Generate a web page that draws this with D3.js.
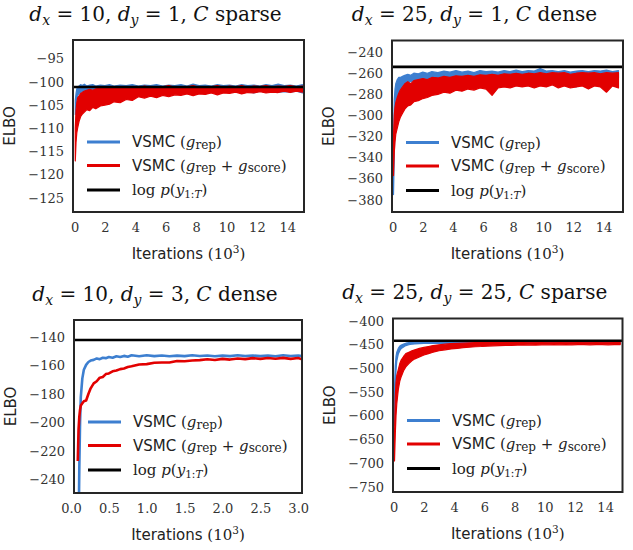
<!DOCTYPE html>
<html>
<head>
<meta charset="utf-8">
<script src="https://cdn.jsdelivr.net/npm/d3@7"></script>
<style>
  body { margin: 0; background: #fff; }
  text { white-space: pre; }
</style>
</head>
<body>
<div id="app"></div>
<script>
// Iterations (in thousands) shared by the three 15k-iteration runs
const xLong = [0.05, 0.1, 0.15, 0.2, 0.3, 0.4, 0.5, 0.65, 0.8, 1.0,
  1.2, 1.4, 1.7, 2.0, 2.3, 2.6, 3.0, 3.4, 3.8, 4.2,
  4.6, 5.0, 5.4, 5.8, 6.2, 6.6, 7.0, 7.4, 7.8, 8.2,
  8.6, 9.0, 9.4, 9.8, 10.2, 10.6, 11.0, 11.4, 11.8, 12.2,
  12.6, 13.0, 13.4, 13.8, 14.2, 14.6, 15.0];

// Panel 1: dx=10, dy=1, C sparse (upper / lower edge of the noisy trace)
const p1BlueHi = [-104, -102.5, -101.5, -101.2, -100.9, -100.6, -100.8, -100.5, -100.9, -100.7,
  -100.6, -100.9, -100.7, -100.8, -100.6, -100.9, -100.7, -100.8, -100.6, -100.9,
  -100.7, -100.8, -100.6, -100.9, -100.7, -100.8, -100.6, -100.9, -100.5, -100.8,
  -100.7, -100.9, -100.6, -100.8, -100.7, -100.9, -100.6, -100.8, -100.7, -100.9,
  -100.6, -100.8, -100.5, -100.8, -100.7, -100.9, -100.6];
const p1BlueLo = [-107, -105, -104, -103, -102.5, -102.3, -102.1, -102.0, -101.9, -102.0,
  -101.9, -102.1, -101.9, -102.0, -102.2, -101.9, -102.1, -102.0, -102.3, -101.9,
  -102.1, -102.0, -102.2, -101.9, -102.1, -102.0, -102.4, -101.9, -102.1, -102.0,
  -102.2, -101.9, -102.1, -102.3, -102.0, -102.2, -101.9, -102.1, -102.4, -102.0,
  -102.2, -102.0, -102.3, -102.1, -102.2, -102.0, -102.4];
const p1RedHi = [-110, -106, -104.5, -103.5, -103, -102.5, -102.3, -102, -101.8, -101.6,
  -101.8, -101.5, -101.4, -101.3, -101.1, -101.3, -101.0, -101.2, -101.0, -101.3,
  -100.9, -101.2, -101.0, -101.1, -100.8, -101.2, -101.0, -101.1, -100.8, -101.2,
  -101.0, -101.1, -100.8, -101.2, -100.9, -101.1, -100.8, -101.2, -100.9, -101.0,
  -100.8, -101.1, -100.9, -101.0, -100.8, -101.1, -100.9];
const p1RedLo = [-117, -113, -111, -110, -108.5, -107.5, -107, -106.5, -106, -106.2,
  -105.5, -105.8, -105.2, -105, -104.8, -104.3, -104.5, -103.8, -104, -103.2,
  -103.5, -103.1, -103.4, -102.9, -103.2, -102.8, -102.9, -102.6, -103.0, -102.6,
  -102.7, -102.4, -102.8, -102.4, -102.5, -102.2, -102.6, -102.3, -102.4, -102.1,
  -102.4, -102.2, -102.3, -102.0, -102.3, -102.0, -102.2];

// Panel 2: dx=25, dy=1, C dense
const p2BlueHi = [-330, -285, -275, -270, -266, -264, -264, -263, -262, -261,
  -262, -260, -260.5, -259, -260, -258.5, -259.5, -258, -259, -257.5,
  -259, -258, -259.5, -257.5, -258.5, -258, -259, -257.5, -258.5, -257,
  -258.5, -257.5, -258, -255.5, -258, -257.5, -258.5, -257.5, -259, -258,
  -257.5, -258.5, -257.5, -258, -257, -258.5, -257.5];
const p2BlueLo = [-375, -340, -305, -292, -283, -278, -275, -272, -270, -268,
  -268, -267, -266, -265, -265.5, -264.5, -265, -264, -265, -264,
  -265, -264, -264.5, -263.5, -265, -264, -264.5, -263.5, -264.5, -263.5,
  -264.5, -263.5, -264, -263.5, -264.5, -264, -264.5, -265, -272, -273,
  -265, -264, -264.5, -264, -264.5, -264, -264.5];
const p2RedHi = [-320, -300, -292, -288, -283, -279, -276, -273, -270, -268,
  -270, -267, -266, -265, -266, -264, -264.5, -263, -264, -262.5,
  -263, -262, -263, -261.5, -262, -261, -262, -260.5, -261, -260,
  -261, -260, -260.5, -259.5, -260.5, -259.5, -260, -259.5, -261, -260,
  -259.5, -260, -259.5, -260.5, -259.5, -260, -259.5];
const p2RedLo = [-357, -335, -325, -318, -312, -306, -302, -298, -294, -291,
  -290, -287, -286, -284, -283, -281, -280, -278, -279, -276,
  -277, -275, -276, -274, -275, -281, -274, -273, -274, -272,
  -273, -272, -274, -272, -273, -271, -274, -272, -274, -273,
  -272, -275, -272, -273, -278, -272, -274];

// Panel 3: dx=10, dy=3, C dense (3k iterations, thin traces)
const xShort = [0.09, 0.1, 0.11, 0.12, 0.13, 0.15, 0.17, 0.2, 0.23, 0.26,
  0.3, 0.34, 0.38, 0.42, 0.46, 0.5, 0.55, 0.6, 0.65, 0.7,
  0.75, 0.8, 0.9, 1.0, 1.1, 1.2, 1.3, 1.4, 1.5, 1.6,
  1.7, 1.8, 1.9, 2.0, 2.1, 2.2, 2.3, 2.4, 2.5, 2.6,
  2.7, 2.8, 2.9, 3.0, 3.05];
const p3Blue = [-320, -280, -232, -200, -182, -169, -163, -159.5, -157.5, -156.5,
  -156, -155, -155.5, -154.5, -154.8, -154, -154.5, -153.5, -154, -153.2,
  -153.8, -152.8, -153.5, -152.8, -153.4, -152.9, -153.5, -153, -153.4, -152.8,
  -153.3, -152.9, -153.5, -153, -153.4, -152.8, -153.3, -152.9, -153.4, -153,
  -153.5, -152.8, -153.3, -152.9, -153.4];
const p3Red = [-227, -205, -196, -191, -188, -186.5, -185, -184.5, -180, -176,
  -172.5, -171, -168.5, -168, -166, -165.5, -164, -163.5, -162.5, -162,
  -161, -160.5, -159.2, -159, -158, -157.8, -157.9, -156.8, -157, -156.4,
  -156.2, -155.6, -156.1, -155.3, -155.8, -155, -155.5, -154.8, -155.3, -154.7,
  -155.2, -154.6, -155.3, -154.7, -155.6];

// Panel 4: dx=25, dy=25, C sparse
const p4BlueHi = [-540, -495, -475, -466, -458, -453, -451, -449, -447, -446,
  -445.5, -445, -445, -444.5, -445, -444.5, -444.5, -444, -444.5, -444,
  -444.5, -444, -444.5, -444, -444.5, -444, -444.5, -444, -444.5, -444,
  -444.5, -444, -444.5, -444, -444.5, -444, -444.5, -444, -444.5, -444,
  -444.5, -444, -444.5, -444, -444.5, -444, -444.5];
const p4BlueLo = [-620, -540, -505, -485, -470, -463, -458, -455, -452, -450,
  -449, -448.5, -448, -447.5, -447.5, -447, -447.5, -447, -447.5, -447,
  -447.5, -447, -447.5, -447, -447.5, -447, -447.5, -447, -447.5, -447,
  -447.5, -447, -447.5, -447, -447.5, -447, -447.5, -447, -447.5, -447,
  -447.5, -447, -447.5, -447, -447.5, -447, -447.5];
const p4RedHi = [-640, -560, -530, -515, -503, -490, -482, -475, -469, -466,
  -463, -461, -458, -456, -454, -452, -450.5, -449, -448, -447.5,
  -447, -446.5, -446, -446, -445.5, -445.5, -445.5, -445, -445.5, -445,
  -445.5, -445, -445, -445.5, -445, -445, -445.5, -445, -445, -445.5,
  -445, -445, -445.5, -445, -445, -445.5, -445];
const p4RedLo = [-695, -640, -600, -575, -545, -527, -517, -505, -497, -490,
  -484, -480, -476, -472, -469, -466, -463, -461, -459, -458,
  -456.5, -455.5, -454.5, -454, -453, -452.5, -452, -451.5, -451.5, -451,
  -451, -450.5, -451, -450.5, -450.5, -450, -450.5, -450, -450.5, -450,
  -450, -450.5, -450, -450, -450.5, -450, -450];

// True log-likelihood per panel
const logP = [-101.1, -254, -142, -442];

// Tick values
const yTicks1 = [-125, -120, -115, -110, -105, -100, -95];
const yTicks2 = [-380, -360, -340, -320, -300, -280, -260, -240];
const yTicks3 = [-240, -220, -200, -180, -160, -140];
const yTicks4 = [-750, -700, -650, -600, -550, -500, -450, -400];
const xTicksLong = [0, 2, 4, 6, 8, 10, 12, 14];
const xTicksShort = [0, 0.5, 1.0, 1.5, 2.0, 2.5, 3.0];

// Titles: [text, kind]
const titles = [
  [["d", "i"], ["x", "subi"], [" = 10, ", "r"], ["d", "i"], ["y", "subi"], [" = 1, ", "r"], ["C", "i"], [" sparse", "r"]],
  [["d", "i"], ["x", "subi"], [" = 25, ", "r"], ["d", "i"], ["y", "subi"], [" = 1, ", "r"], ["C", "i"], [" dense", "r"]],
  [["d", "i"], ["x", "subi"], [" = 10, ", "r"], ["d", "i"], ["y", "subi"], [" = 3, ", "r"], ["C", "i"], [" dense", "r"]],
  [["d", "i"], ["x", "subi"], [" = 25, ", "r"], ["d", "i"], ["y", "subi"], [" = 25, ", "r"], ["C", "i"], [" sparse", "r"]]
];

const legendItems = [
  [["VSMC", "s"], [" (", "r"], ["g", "i"], ["rep", "lo"], [")", "r"]],
  [["VSMC", "s"], [" (", "r"], ["g", "i"], ["rep", "lo"], [" + ", "r"], ["g", "i"], ["score", "lo"], [")", "r"]],
  [["log ", "r"], ["p", "i"], ["(", "r"], ["y", "i"], ["1:", "sub"], ["T", "subi"], [")", "r"]]
];

const blue = "#3d7fd0";
const red = "#e20000";
const frame = "#262626";
const serif = "'DejaVu Serif', serif";
const sans = "'DejaVu Sans', sans-serif";

// layout of each panel
const panels = [
  { box: [73, 40, 304, 212], xDom: [-0.1, 15.1], yDom: [-128, -91], xTicks: xTicksLong, yTicks: yTicks1, fmt: "d",
    x: xLong, bands: [[p1BlueHi, p1BlueLo, blue], [p1RedHi, p1RedLo, red]] },
  { box: [392, 40.5, 623, 212], xDom: [-0.05, 15.3], yDom: [-391.5, -229], xTicks: xTicksLong, yTicks: yTicks2, fmt: "d",
    x: xLong, bands: [[p2BlueHi, p2BlueLo, blue], [p2RedHi, p2RedLo, red]] },
  { box: [74, 320, 302, 493], xDom: [0.04, 3.05], yDom: [-249.5, -128], xTicks: xTicksShort, yTicks: yTicks3, fmt: ".1f",
    x: xShort, lines: [[p3Blue, blue], [p3Red, red]] },
  { box: [393, 318.5, 622.5, 492], xDom: [-0.05, 15.15], yDom: [-760.5, -395], xTicks: xTicksLong, yTicks: yTicks4, fmt: "d",
    x: xLong, bands: [[p4BlueHi, p4BlueLo, blue], [p4RedHi, p4RedLo, red]] }
];

const svg = d3.select("#app").append("svg")
  .attr("width", 633).attr("height", 550)
  .attr("viewBox", [0, 0, 633, 550]);

// writes mixed sans / math text into a <text>
function rich(text, parts, size) {
  let shift = 0;
  parts.forEach(([t, k]) => {
    const ts = text.append("tspan").text(t)
      .attr("font-family", k === "s" ? sans : serif);
    let target = 0;
    if (k === "i" || k === "subi") ts.attr("font-style", "italic");
    if (k === "sub" || k === "subi") { ts.attr("font-size", size * 0.7); target = size * 0.22; }
    if (k === "lo") { ts.attr("font-size", size * 0.8); target = size * 0.12; }
    if (k === "sup") { ts.attr("font-size", size * 0.7); target = -size * 0.4; }
    ts.attr("dy", target - shift);
    shift = target;
  });
}

panels.forEach((p, i) => {
  const [l, t, r, b] = p.box;
  const x = d3.scaleLinear().domain(p.xDom).range([l, r]);
  const y = d3.scaleLinear().domain(p.yDom).range([b, t]);
  const g = svg.append("g");

  g.append("clipPath").attr("id", "clip" + i)
    .append("rect").attr("x", l).attr("y", t).attr("width", r - l).attr("height", b - t);
  const plot = g.append("g").attr("clip-path", `url(#clip${i})`);

  if (p.bands) {
    p.bands.forEach(([hi, lo, c]) => {
      const area = d3.area()
        .x((d, j) => x(p.x[j]))
        .y0((d, j) => y(lo[j]))
        .y1((d) => y(d));
      plot.append("path").datum(hi)
        .attr("d", area)
        .attr("fill", c)
        .attr("stroke", c)
        .attr("stroke-width", 1.2)
        .attr("stroke-linejoin", "round");
    });
  }
  if (p.lines) {
    p.lines.forEach(([vals, c]) => {
      const line = d3.line().x((d, j) => x(p.x[j])).y((d) => y(d));
      plot.append("path").datum(vals)
        .attr("d", line)
        .attr("fill", "none")
        .attr("stroke", c)
        .attr("stroke-width", 2.6)
        .attr("stroke-linejoin", "round");
    });
  }

  // log p(y_1:T)
  plot.append("line")
    .attr("x1", l).attr("x2", r)
    .attr("y1", y(logP[i])).attr("y2", y(logP[i]))
    .attr("stroke", "#000").attr("stroke-width", 2.6);

  // axes
  g.append("g")
    .attr("transform", `translate(${l},0)`)
    .call(d3.axisLeft(y).tickValues(p.yTicks).tickSize(0).tickPadding(9))
    .call((a) => a.select(".domain").remove())
    .attr("font-family", serif).attr("font-size", 13)
    .selectAll("text").attr("fill", "#333");

  g.append("g")
    .attr("transform", `translate(0,${b})`)
    .call(d3.axisBottom(x).tickValues(p.xTicks).tickSize(0).tickPadding(11)
      .tickFormat(d3.format(p.fmt)))
    .call((a) => a.select(".domain").remove())
    .attr("font-family", serif).attr("font-size", 13)
    .selectAll("text").attr("fill", "#333");

  // axis labels
  g.append("text")
    .attr("transform", `translate(${l - 58},${(t + b) / 2}) rotate(-90)`)
    .attr("text-anchor", "middle")
    .attr("font-family", sans).attr("font-size", 15).attr("fill", "#222")
    .text("ELBO");

  const xl = g.append("text")
    .attr("x", (l + r) / 2).attr("y", b + 47)
    .attr("text-anchor", "middle")
    .attr("font-size", 15).attr("fill", "#222");
  rich(xl, [["Iterations ", "s"], ["(10", "r"], ["3", "sup"], [")", "r"]], 15);

  // title
  const tt = svg.append("text")
    .attr("x", (l + r) / 2 - 33).attr("y", t - 19.5)
    .attr("text-anchor", "middle")
    .attr("font-size", 20).attr("fill", "#111");
  rich(tt, titles[i], 20);

  // legend
  const rows = [102, 125.5, 150];
  const colors = [blue, red, "#000"];
  legendItems.forEach((item, k) => {
    const ly = t + rows[k];
    g.append("line")
      .attr("x1", l + 14).attr("x2", l + 47)
      .attr("y1", ly).attr("y2", ly)
      .attr("stroke", colors[k]).attr("stroke-width", 3);
    const lt = g.append("text")
      .attr("x", l + 59).attr("y", ly + 5)
      .attr("font-size", 15).attr("fill", "#222");
    rich(lt, item, 15);
  });

  // frame
  g.append("rect")
    .attr("x", l).attr("y", t).attr("width", r - l).attr("height", b - t)
    .attr("fill", "none").attr("stroke", frame).attr("stroke-width", 2);
});
</script>
</body>
</html>
